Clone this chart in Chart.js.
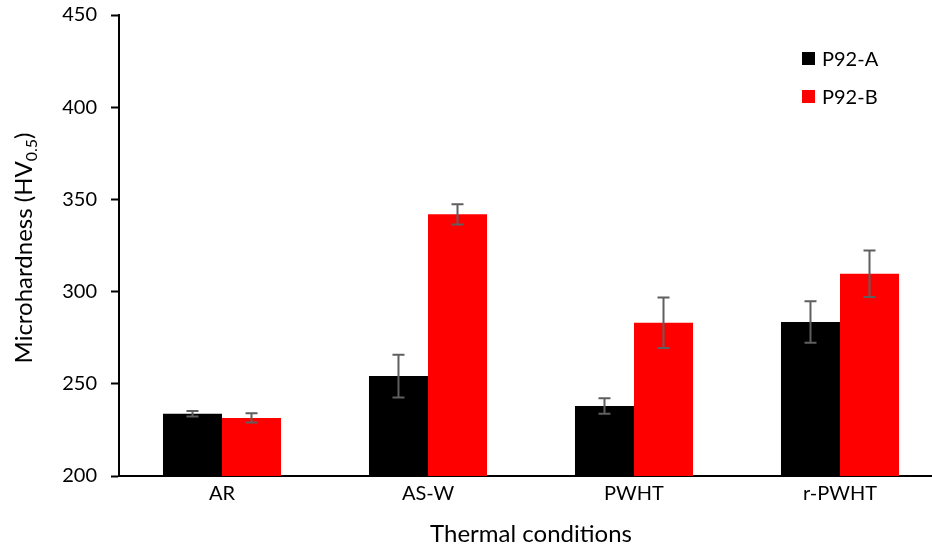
<!DOCTYPE html>
<html>
<head>
<meta charset="utf-8">
<script src="https://cdn.jsdelivr.net/npm/chart.js@4.4.0/dist/chart.umd.min.js"></script>
<style>
  html, body { margin: 0; padding: 0; background: #fff; overflow: hidden; }
  #wrap { position: relative; width: 960px; height: 549px; }
</style>
</head>
<body>
<div id="wrap"><canvas id="c"></canvas></div>
<script>
const categories = ["AR", "AS-W", "PWHT", "r-PWHT"];
const seriesNames = ["P92-A", "P92-B"];
const p92A = [233.8, 254.2, 238.0, 283.5];
const p92B = [231.5, 341.9, 283.1, 309.7];
const p92AErr = [1.5, 11.6, 4.2, 11.3];
const p92BErr = [2.5, 5.5, 13.7, 12.6];
const yTicks = [200, 250, 300, 350, 400, 450];

const FONT = "Lato, 'Open Sans', sans-serif";

const errorBars = {
  id: 'errorBars',
  afterDatasetsDraw(chart) {
    const ctx = chart.ctx;
    const y = chart.scales.y;
    const errs = [p92AErr, p92BErr];
    ctx.save();
    ctx.strokeStyle = '#5f5f5f';
    ctx.lineWidth = 2;
    chart.data.datasets.forEach((ds, di) => {
      const meta = chart.getDatasetMeta(di);
      meta.data.forEach((bar, i) => {
        const v = ds.data[i], e = errs[di][i];
        const x = bar.x;
        const yt = y.getPixelForValue(v + e);
        const yb = y.getPixelForValue(v - e);
        ctx.beginPath();
        ctx.moveTo(x, yt); ctx.lineTo(x, yb);
        ctx.moveTo(x - 6, yt); ctx.lineTo(x + 6, yt);
        ctx.moveTo(x - 6, yb); ctx.lineTo(x + 6, yb);
        ctx.stroke();
      });
    });
    ctx.restore();
  }
};

const decorations = {
  id: 'decorations',
  afterDraw(chart) {
    const ctx = chart.ctx;
    const area = chart.chartArea;
    ctx.save();
    // legend
    ctx.font = '20px ' + FONT;
    ctx.textBaseline = 'middle';
    ctx.textAlign = 'left';
    chart.data.datasets.forEach((ds, i) => {
      const yy = 58.5 + i * 38;
      ctx.fillStyle = ds.backgroundColor;
      ctx.fillRect(802, yy - 6.5, 13, 13);
      ctx.fillStyle = '#000';
      ctx.fillText(ds.label, 822, yy + 1);
    });
    // x title
    ctx.font = '24px ' + FONT;
    ctx.textAlign = 'center';
    ctx.textBaseline = 'middle';
    ctx.fillText('Thermal conditions', (area.left + area.right) / 2, 534);
    // y title with subscript
    ctx.translate(24, 248);
    ctx.rotate(-Math.PI / 2);
    const main = 'Microhardness (HV';
    const sub = '0.5';
    const close = ')';
    ctx.font = '24px ' + FONT;
    const wMain = ctx.measureText(main).width;
    const wClose = ctx.measureText(close).width;
    ctx.font = '16px ' + FONT;
    const wSub = ctx.measureText(sub).width;
    const total = wMain + wSub + wClose;
    let x0 = -total / 2;
    ctx.textAlign = 'left';
    ctx.textBaseline = 'alphabetic';
    ctx.font = '24px ' + FONT;
    ctx.fillText(main, x0, 8);
    ctx.font = '16px ' + FONT;
    ctx.fillText(sub, x0 + wMain, 13);
    ctx.font = '24px ' + FONT;
    ctx.fillText(close, x0 + wMain + wSub, 8);
    ctx.restore();
  }
};

new Chart(document.getElementById('c'), {
  type: 'bar',
  data: {
    labels: categories,
    datasets: [
      { label: seriesNames[0], data: p92A, backgroundColor: '#000000', borderWidth: 0 },
      { label: seriesNames[1], data: p92B, backgroundColor: '#ff0000', borderWidth: 0 }
    ]
  },
  options: {
    responsive: true,
    maintainAspectRatio: false,
    animation: false,
    layout: { padding: { top: 15, right: 17, left: 0, bottom: 0 } },
    plugins: { legend: { display: false }, tooltip: { enabled: false } },
    datasets: { bar: { categoryPercentage: 0.573, barPercentage: 1.0 } },
    scales: {
      x: {
        grid: { display: true, drawOnChartArea: false, drawTicks: false },
        border: { display: true, color: '#000', width: 2 },
        ticks: { color: '#000', font: { family: FONT, size: 20 }, padding: 6 },
        afterFit(scale) { scale.height = 73; scale.paddingLeft = 0; scale.paddingRight = 0; }
      },
      y: {
        min: 200, max: 450,
        afterBuildTicks(scale) { scale.ticks = yTicks.map(v => ({ value: v })); },
        grid: { display: true, drawOnChartArea: false, drawTicks: true, tickLength: 8, tickColor: '#000', tickWidth: 2 },
        border: { display: true, color: '#000', width: 2 },
        ticks: { color: '#000', font: { family: FONT, size: 20 }, padding: 14 },
        afterFit(scale) { scale.width = 119; scale.paddingTop = 0; scale.paddingBottom = 0; }
      }
    }
  },
  plugins: [errorBars, decorations]
});
</script>
</body>
</html>
